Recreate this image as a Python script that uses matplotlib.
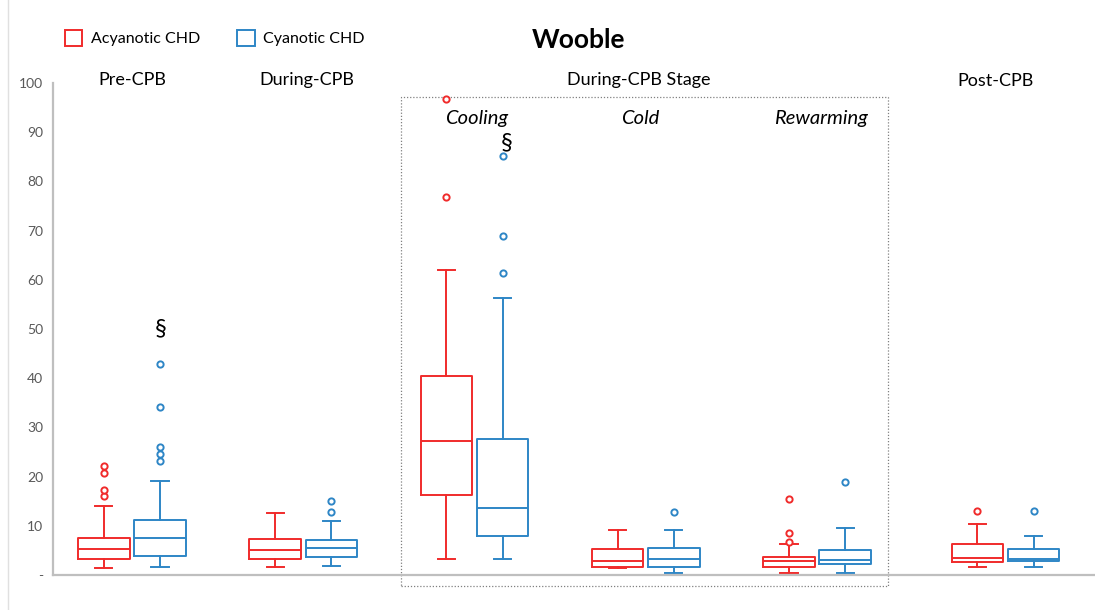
import matplotlib
matplotlib.use('Agg')
import matplotlib.pyplot as plt
from matplotlib.patches import Patch, Rectangle
from matplotlib.lines import Line2D

plt.rcParams['font.family'] = ['Lato', 'DejaVu Sans']

# Box statistics: (whislo, q1, median, q3, whishi)
groups = ['Pre-CPB', 'During-CPB', 'Cooling', 'Cold', 'Rewarming', 'Post-CPB']
acy_stats = [
    (1.4, 3.2, 5.2, 7.6, 14.0),
    (1.7, 3.2, 5.1, 7.4, 12.5),
    (3.2, 16.2, 27.2, 40.4, 61.9),
    (1.4, 1.7, 2.8, 5.3, 9.1),
    (0.5, 1.7, 2.8, 3.7, 6.3),
    (1.6, 2.6, 3.4, 6.2, 10.4),
]
acy_fliers = [
    [16.1, 17.3, 20.8, 22.2],
    [],
    [76.8, 96.7],
    [],
    [6.8, 8.6, 15.4],
    [13.0],
]
cya_stats = [
    (1.6, 3.8, 7.5, 11.2, 19.1),
    (1.8, 3.7, 5.4, 7.1, 11.0),
    (3.3, 8.0, 13.6, 27.7, 56.3),
    (0.5, 1.7, 3.2, 5.4, 9.1),
    (0.5, 2.2, 3.0, 5.1, 9.6),
    (1.6, 2.8, 3.2, 5.3, 7.9),
]
cya_fliers = [
    [23.2, 24.5, 26.0, 34.2, 42.8],
    [12.9, 15.0],
    [61.3, 68.9, 85.2],
    [12.9],
    [18.8],
    [13.0],
]

RED = '#F02B2B'
BLUE = '#2E86C6'
GRAY = '#BFBFBF'

positions = [1, 2, 3, 4, 5, 6.1]
offset = 0.164
box_w = 0.30


def to_bxp(stats, fliers):
    out = []
    for (lo, q1, med, q3, hi), fl in zip(stats, fliers):
        out.append(dict(whislo=lo, q1=q1, med=med, q3=q3, whishi=hi, fliers=fl))
    return out


fig = plt.figure(figsize=(10.95, 6.1), dpi=100)
ax = fig.add_axes([0.0484, 0.0574, 0.9516, 0.8066])

for stats, fliers, color, sign in [(acy_stats, acy_fliers, RED, -1),
                                   (cya_stats, cya_fliers, BLUE, 1)]:
    lw = 1.4
    ax.bxp(to_bxp(stats, fliers),
           positions=[p + sign * offset for p in positions],
           widths=box_w, capwidths=0.1, showfliers=True,
           boxprops=dict(color=color, linewidth=lw),
           medianprops=dict(color=color, linewidth=lw),
           whiskerprops=dict(color=color, linewidth=lw),
           capprops=dict(color=color, linewidth=lw),
           flierprops=dict(marker='o', markerfacecolor='white',
                           markeredgecolor=color, markersize=4.5,
                           markeredgewidth=1.4))

ax.set_xlim(0.539, 6.623)
ax.set_ylim(0, 100)
ax.set_xticks([])
ax.set_yticks(range(0, 101, 10))
ax.set_yticklabels(['-'] + [str(v) for v in range(10, 101, 10)],
                   color='#595959', fontsize=10)
ax.tick_params(axis='y', length=0, pad=7)
for s in ['top', 'right']:
    ax.spines[s].set_visible(False)
for s in ['left', 'bottom']:
    ax.spines[s].set_color(GRAY)
    ax.spines[s].set_linewidth(1.6)

# dotted frame around the during-CPB stages
ax.add_patch(Rectangle((2.571, -2.2), 5.415 - 2.571, 97.2 + 2.2,
                       fill=False, edgecolor='#808080', linestyle=(0, (1, 1.5)),
                       linewidth=0.9, clip_on=False))

# group labels
for txt, x, y in [('Pre-CPB', 1.0, 100.6), ('During-CPB', 2.02, 100.6),
                  ('During-CPB Stage', 3.96, 100.6), ('Post-CPB', 6.04, 100.4)]:
    ax.text(x, y, txt, ha='center', va='center', fontsize=13, clip_on=False)
for txt, x in [('Cooling', 3.01), ('Cold', 3.97), ('Rewarming', 5.02)]:
    ax.text(x, 92.7, txt, ha='center', va='center', fontsize=14.5,
            style='italic', clip_on=False)

# significance marks
ax.text(1.17, 50.0, '§', ha='center', va='center', fontsize=17)
ax.text(3.19, 87.8, '§', ha='center', va='center', fontsize=17)

fig.text(0.528, 0.935, 'Wooble', ha='center', va='center',
         fontsize=19, fontweight='bold')

handles = [Patch(facecolor='none', edgecolor=RED, linewidth=1.4),
           Patch(facecolor='none', edgecolor=BLUE, linewidth=1.4)]
fig.legend(handles, ['Acyanotic CHD', 'Cyanotic CHD'], loc='center left',
           bbox_to_anchor=(0.046, 0.937), ncol=2, frameon=False,
           fontsize=11.5, handlelength=1.1, handleheight=1.1,
           handletextpad=0.55, columnspacing=2.3)

fig.add_artist(Line2D([0.007, 0.007], [0, 1], color='#E0E0E0', linewidth=1))

fig.savefig('out.png', dpi=100)
